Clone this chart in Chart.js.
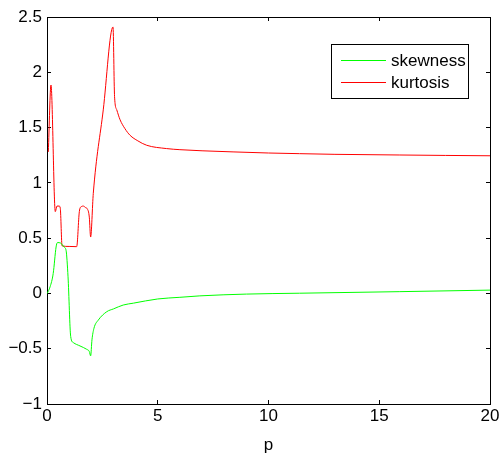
<!DOCTYPE html>
<html>
<head>
<meta charset="utf-8">
<script src="https://cdn.jsdelivr.net/npm/chart.js@4"></script>
<style>
  html, body { margin: 0; padding: 0; background: #fff; }
  #wrap { width: 500px; height: 454px; position: relative; overflow: hidden; }
</style>
</head>
<body>
<div id="wrap"><canvas id="chart" width="500" height="454"></canvas></div>
<script>
  // values
  const kurtosisP = [0.06, 0.18, 0.375, 0.45, 0.55, 0.6, 0.68, 1.0, 1.34, 1.46, 1.55, 1.64, 1.75, 1.82, 1.91, 1.97, 2.09, 2.54, 2.98, 3.05, 3.15, 3.3, 3.52, 3.75, 4.1, 4.5, 5.4, 6.0, 7.0, 8.4, 10, 11.4, 13, 15.9, 18, 20];
  const kurtosis = [1.28, 1.885, 0.74, 0.79, 0.79, 0.77, 0.43, 0.425, 0.423, 0.74, 0.785, 0.79, 0.775, 0.765, 0.69, 0.51, 0.905, 1.66, 2.41, 1.78, 1.66, 1.57, 1.49, 1.43, 1.38, 1.34, 1.31, 1.3, 1.29, 1.28, 1.27, 1.264, 1.258, 1.252, 1.248, 1.245];

  const skewnessP = [0.01, 0.14, 0.28, 0.41, 0.47, 0.62, 0.77, 0.86, 0.95, 1.07, 1.19, 1.49, 1.79, 1.91, 1.97, 2.03, 2.12, 2.32, 2.7, 3.0, 3.44, 3.9, 5.0, 6.0, 6.9, 9.0, 11.4, 15.9, 20];
  const skewness = [0.0, 0.06, 0.18, 0.42, 0.46, 0.455, 0.42, 0.39, 0.15, -0.39, -0.445, -0.475, -0.505, -0.525, -0.565, -0.42, -0.315, -0.24, -0.165, -0.14, -0.105, -0.088, -0.05, -0.035, -0.022, -0.006, 0.002, 0.016, 0.03];

  const xTicks = [0, 5, 10, 15, 20];
  const yTicks = [-1, -0.5, 0, 0.5, 1, 1.5, 2, 2.5];
  const seriesNames = ["skewness", "kurtosis"];
  const seriesColors = ["#00ff00", "#ff0000"];

  const FONT = "'Liberation Sans', Arial, Helvetica, sans-serif";

  function toPoints(xs, ys) {
    return xs.map((x, i) => ({ x, y: ys[i] }));
  }

  function fmtTick(v) {
    return String(v).replace("-", "\u2212");
  }

  // matlab style: black box, ticks pointing inward
  const boxGrid = { display: true, drawOnChartArea: false, drawTicks: true, tickLength: -4, color: "#000", lineWidth: 1 };
  const boxBorder = { display: true, color: "#000", width: 1 };

  // legend box and axis title
  const legendPlugin = {
    id: "boxLegend",
    afterDraw(chart) {
      const ctx = chart.ctx;
      const a = chart.chartArea;
      ctx.save();
      ctx.fillStyle = "#fff";
      ctx.fillRect(332, 44, 137, 55);
      ctx.fillStyle = "#000";
      ctx.fillRect(331, 44, 138, 1);
      ctx.fillRect(331, 98, 138, 1);
      ctx.fillRect(331, 44, 1, 55);
      ctx.fillRect(468, 44, 1, 55);
      ctx.font = "17px " + FONT;
      ctx.textBaseline = "alphabetic";
      ctx.textAlign = "left";
      const rows = [60, 82];
      seriesNames.forEach((name, i) => {
        ctx.fillStyle = seriesColors[i];
        ctx.fillRect(341, rows[i], 45, 1);
        ctx.fillStyle = "#000";
        ctx.fillText(name, 391, rows[i] + 6);
      });
      ctx.textAlign = "center";
      ctx.fillText("p", (a.left + a.right) / 2, 450);
      ctx.restore();
    }
  };

  new Chart(document.getElementById("chart"), {
    type: "line",
    data: {
      datasets: [
        {
          label: seriesNames[0],
          data: toPoints(skewnessP, skewness),
          borderColor: seriesColors[0],
          borderWidth: 1,
          pointRadius: 0,
          cubicInterpolationMode: "monotone",
          fill: false
        },
        {
          label: seriesNames[1],
          data: toPoints(kurtosisP, kurtosis),
          borderColor: seriesColors[1],
          borderWidth: 1,
          pointRadius: 0,
          cubicInterpolationMode: "monotone",
          fill: false
        }
      ]
    },
    options: {
      responsive: false,
      animation: false,
      layout: { padding: { left: 0, right: 10, top: 17, bottom: 0 } },
      plugins: {
        legend: { display: false },
        tooltip: { enabled: false }
      },
      scales: {
        x: {
          type: "linear",
          position: "bottom",
          min: 0,
          max: 20,
          afterBuildTicks: (s) => { s.ticks = xTicks.map((v) => ({ value: v })); },
          afterFit: (s) => { s.height = 50; s.paddingLeft = 0; s.paddingRight = 0; },
          grid: boxGrid,
          border: boxBorder,
          ticks: {
            color: "#000",
            font: { family: FONT, size: 17 },
            padding: 6,
            maxRotation: 0,
            callback: (v) => fmtTick(v)
          }
        },
        xTop: {
          type: "linear",
          position: "top",
          min: 0,
          max: 20,
          afterBuildTicks: (s) => { s.ticks = xTicks.map((v) => ({ value: v })); },
          afterFit: (s) => { s.height = 0; s.paddingLeft = 0; s.paddingRight = 0; },
          grid: boxGrid,
          border: boxBorder,
          ticks: { display: false }
        },
        y: {
          type: "linear",
          position: "left",
          min: -1,
          max: 2.5,
          afterBuildTicks: (s) => { s.ticks = yTicks.map((v) => ({ value: v })); },
          afterFit: (s) => { s.width = 47; s.paddingTop = 0; s.paddingBottom = 0; },
          grid: boxGrid,
          border: boxBorder,
          ticks: {
            color: "#000",
            font: { family: FONT, size: 17 },
            padding: 9,
            callback: (v) => fmtTick(v)
          }
        },
        yRight: {
          type: "linear",
          position: "right",
          min: -1,
          max: 2.5,
          afterBuildTicks: (s) => { s.ticks = yTicks.map((v) => ({ value: v })); },
          afterFit: (s) => { s.width = 0; s.paddingTop = 0; s.paddingBottom = 0; },
          grid: boxGrid,
          border: boxBorder,
          ticks: { display: false }
        }
      }
    },
    plugins: [legendPlugin]
  });
</script>
</body>
</html>
